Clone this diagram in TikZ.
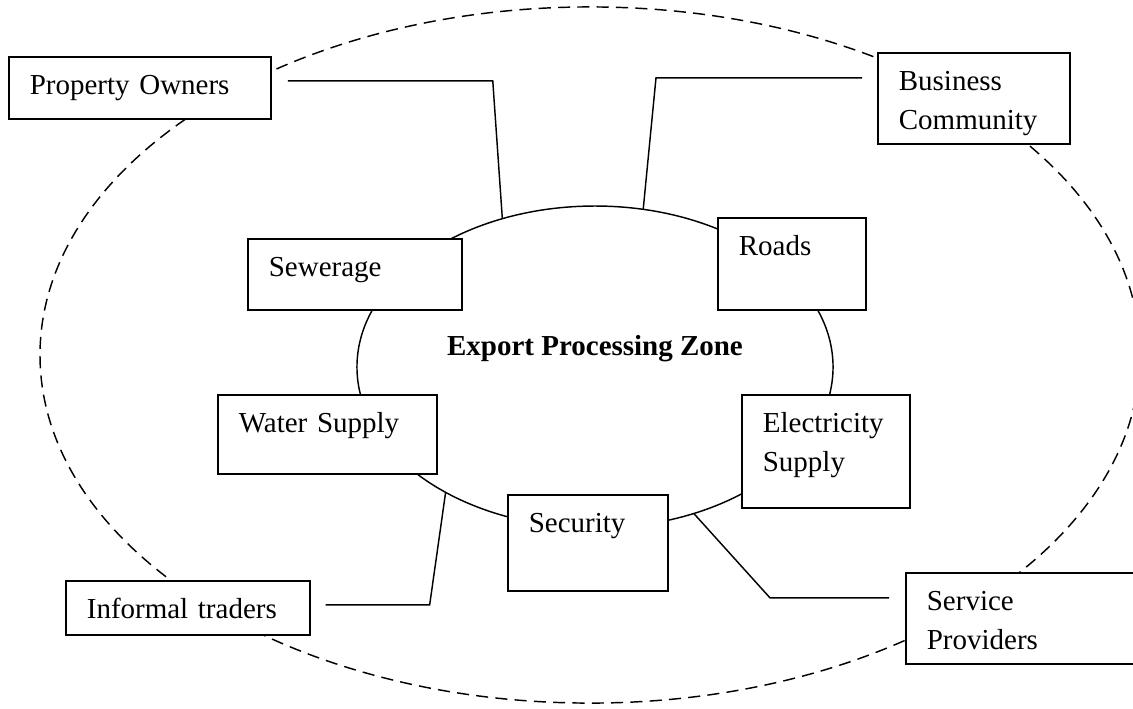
\documentclass[tikz,border=0pt]{standalone}
\usepackage{fontspec}
\setmainfont{Liberation Serif}
\usetikzlibrary{shapes.geometric}

\tikzset{
    stake/.style={draw, line width=0.7pt, fill=white, anchor=north west,
        inner xsep=8.7pt, inner ysep=0pt, align=left, text height=15.7pt,
        font=\fontsize{12pt}{16pt}\selectfont},
    tie/.style={line width=0.6pt},
}

\begin{document}
\begin{tikzpicture}[x={(0.414pt,0)}, y={(0,-0.414pt)}]
    \useasboundingbox (0,0) rectangle (1133,708);

    % Outer boundary (dashed)
    \draw[tie, dash pattern=on 5pt off 3pt] (590,355) ellipse [x radius=227.7pt, y radius=144.1pt];

    % The zone in the middle
    \node[draw, ellipse, tie, inner sep=0pt, outer sep=0pt, minimum width=197.1pt, minimum height=133.3pt] (ezone) at (595,367) {};
    \node[anchor=base, font=\fontsize{12pt}{16pt}\selectfont\bfseries] (ezonelabel) at (595,355) {Export Processing Zone};

    % Services on the ring
    \node[stake, text width=71.2pt, text depth=13.7pt] (sew) at (247,238) {Sewerage};
    \node[stake, text width=43.9pt, text depth=22.4pt] (roads) at (717,217) {Roads};
    \node[stake, text width=73.3pt, text depth=17pt] (water) at (217,394) {Water Supply};
    \node[stake, text width=52.2pt, text depth=31.1pt] (elec) at (741,394) {Electricity\\Supply};
    \node[stake, text width=48.8pt, text depth=24pt] (security) at (507,494) {Security};

    % Outside groups
    \node[stake, text width=91.1pt, text depth=10pt] (po) at (8,56) {Property Owners};
    \node[stake, text width=62.1pt, text depth=22pt] (bc) at (877,52) {Business\\Community};
    \node[stake, text width=83.6pt, text depth=6.7pt] (informal) at (65,580) {Informal traders};
    % runs past the right edge
    \node[stake, text width=110pt, text depth=22pt] (service) at (905,572) {Service\\Providers};

    % Links to the zone
    \draw[tie] ([shift={(16,-7)}]po.east) -- ++(205,0) -- (ezone.122.6);
    \draw[tie] ([shift={(-15,-20.5)}]bc.west) -- ++(-206,0) -- (ezone.73.9);
    \draw[tie] ([shift={(15,-3)}]informal.east) -- ++(104,0) -- (ezone.220.9);
    \draw[tie] ([shift={(-16,-20.5)}]service.west) -- ++(-119,0) -- (ezone.304.2);
\end{tikzpicture}
\end{document}
